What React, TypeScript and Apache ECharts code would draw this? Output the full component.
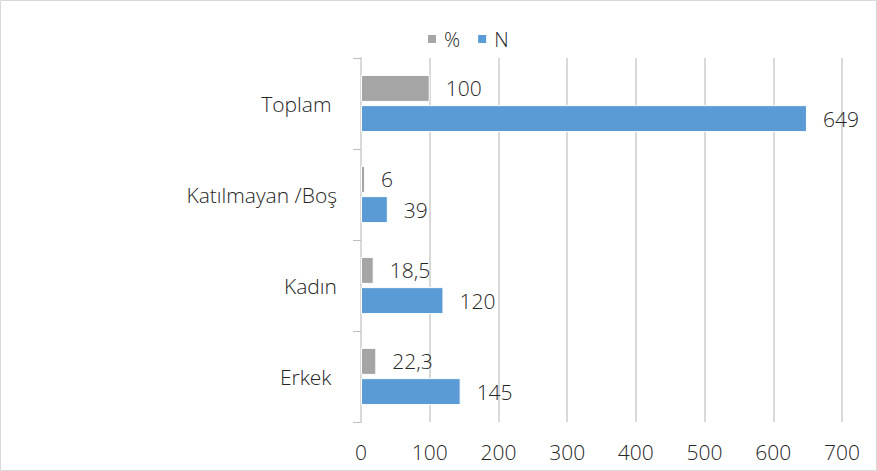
import React, { useEffect, useRef } from "react";
import * as echarts from "echarts";

const categories = ["Erkek ", "Kadın", "Katılmayan /Boş", "Toplam "];
const nValues = [145, 120, 39, 649];
const pctValues = [22.3, 18.5, 6, 100];
const xTicks = [0, 100, 200, 300, 400, 500, 600, 700];

const FONT = "'Open Sans', 'Noto Sans', sans-serif";
const FS = 21;
const FW = 300;
const TXT = "#262626";

export default function App() {
  const ref = useRef<HTMLDivElement>(null);
  useEffect(() => {
    document.body.style.margin = "0";
    const chart = echarts.init(ref.current!, null, { renderer: "svg" });
    const labelCommon = {
      show: true,
      position: "right" as const,
      distance: 16,
      fontFamily: FONT,
      fontSize: FS,
      fontWeight: FW,
      color: TXT,
      formatter: (p: any) => String(p.value).replace(".", ","),
    };
    chart.setOption({
      animation: false,
      textStyle: { fontFamily: FONT },
      graphic: [
        {
          type: "rect",
          shape: { x: 0.5, y: 0.5, width: 876, height: 470 },
          style: { fill: "none", stroke: "#d9d9d9", lineWidth: 1 },
          silent: true,
        },
      ],
      legend: {
        data: ["%", "N"],
        top: 24,
        left: 421,
        itemWidth: 10,
        itemHeight: 10,
        itemGap: 16,
        icon: "rect",
        textStyle: { fontFamily: FONT, fontSize: 20, fontWeight: FW, color: TXT, padding: [0, 0, 0, 2] },
      },
      grid: { left: 361, right: 35, top: 58, bottom: 49, containLabel: false },
      xAxis: {
        type: "value",
        min: xTicks[0],
        max: xTicks[xTicks.length - 1],
        interval: 100,
        axisLine: { show: false },
        axisTick: { show: false },
        splitLine: { show: true, lineStyle: { color: "#d9d9d9", width: 2 } },
        axisLabel: { margin: 19, fontFamily: FONT, fontSize: FS, fontWeight: FW, color: TXT },
      },
      yAxis: {
        type: "category",
        data: categories,
        axisLine: { show: true, lineStyle: { color: "#d9d9d9", width: 2 } },
        axisTick: { show: true, length: 8, lineStyle: { color: "#bfbfbf" } },
        axisLabel: { margin: 24, fontFamily: FONT, fontSize: FS, fontWeight: FW, color: TXT },
      },
      series: [
        {
          name: "%",
          type: "bar",
          data: pctValues,
          barWidth: 27,
          barGap: "12%",
          itemStyle: { color: "#a5a5a5", borderColor: "#ffffff", borderWidth: 1 },
          label: labelCommon,
        },
        {
          name: "N",
          type: "bar",
          data: nValues,
          barWidth: 27,
          barGap: "12%",
          itemStyle: { color: "#5b9bd5", borderColor: "#ffffff", borderWidth: 1 },
          label: labelCommon,
        },
      ],
    });
    return () => chart.dispose();
  }, []);
  return (
    <div
      ref={ref}
      style={{ position: "absolute", left: 0, top: 0, width: 877, height: 471 }}
    />
  );
}
